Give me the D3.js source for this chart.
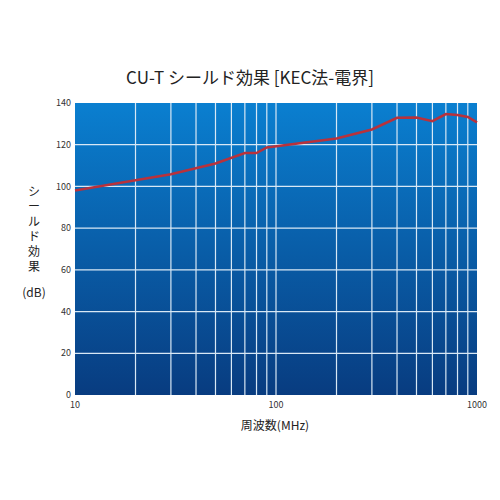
<!DOCTYPE html>
<html><head><meta charset="utf-8">
<script src="https://cdn.jsdelivr.net/npm/d3@7"></script>
<style>body{margin:0;background:#fff}text{font-family:"Noto Sans CJK JP",sans-serif}</style>
</head><body>
<svg id="chart" width="500" height="500"></svg>
<script>
const freqs = [10, 20, 30, 50, 70, 80, 90, 200, 300, 400, 500, 600, 700, 800, 900, 1000];
const shield = [98, 103, 105.8, 111, 116, 116, 118.7, 123, 127.3, 132.9, 133, 131.3, 134.7, 134.2, 133.3, 130.7];
const yTicks = [0, 20, 40, 60, 80, 100, 120, 140];
const xTicks = [10, 100, 1000];

const svg = d3.select("#chart");
const x = d3.scaleLog().domain([10, 1000]).range([75, 477]);
const y = d3.scaleLinear().domain([0, 140]).range([395, 103]);

const grad = svg.append("defs").append("linearGradient")
  .attr("id", "bg").attr("x1", 0).attr("y1", 0).attr("x2", 0).attr("y2", 1);
grad.append("stop").attr("offset", "0%").attr("stop-color", "#0a7fd0");
grad.append("stop").attr("offset", "100%").attr("stop-color", "#083c80");

svg.append("rect").attr("x", 75).attr("y", 103).attr("width", 402).attr("height", 292)
  .attr("fill", "url(#bg)");

// grid
const minor = [];
[10, 100].forEach(d => { for (let k = 2; k <= 9; k++) minor.push(d * k); });
svg.append("g").selectAll("line").data(minor.concat([100])).enter().append("line")
  .attr("x1", d => x(d)).attr("x2", d => x(d)).attr("y1", 103).attr("y2", 395)
  .attr("stroke", "#d8e8f5").attr("stroke-width", 1.2);
svg.append("g").selectAll("line").data(yTicks.slice(1, -1)).enter().append("line")
  .attr("x1", 75).attr("x2", 477).attr("y1", d => y(d)).attr("y2", d => y(d))
  .attr("stroke", "#d8e8f5").attr("stroke-width", 1.2);

// axes labels
svg.append("g").selectAll("text").data(yTicks).enter().append("text")
  .attr("x", 71).attr("y", d => y(d)).attr("dy", "0.35em").attr("text-anchor", "end")
  .attr("font-size", 9).attr("fill", "#333").text(d => d);
svg.append("g").selectAll("text").data(xTicks).enter().append("text")
  .attr("x", d => x(d)).attr("y", 408).attr("text-anchor", "middle")
  .attr("font-size", 9).attr("fill", "#333").text(d => d);

// line
svg.append("path").datum(freqs.map((f, i) => [f, shield[i]]))
  .attr("d", d3.line().x(d => x(d[0])).y(d => y(d[1])))
  .attr("fill", "none").attr("stroke", "#b8323c").attr("stroke-width", 2.5);

svg.append("text").attr("x", 250).attr("y", 84).attr("text-anchor", "middle")
  .attr("font-size", 17).attr("fill", "#222").text("CU-T シールド効果 [KEC法-電界]");
svg.append("text").attr("x", 275).attr("y", 430).attr("text-anchor", "middle")
  .attr("font-size", 12).attr("fill", "#222").text("周波数(MHz)");
// vertical label, one character per line
svg.append("g").selectAll("text").data(Array.from("シールド効果")).enter().append("text")
  .attr("x", 34).attr("y", (d, i) => 196 + i * 15).attr("text-anchor", "middle")
  .attr("font-size", 12).attr("fill", "#222").text(d => d);
svg.append("text").attr("x", 34).attr("y", 297).attr("text-anchor", "middle")
  .attr("font-size", 12).attr("fill", "#222").text("(dB)");
</script>
</body></html>
